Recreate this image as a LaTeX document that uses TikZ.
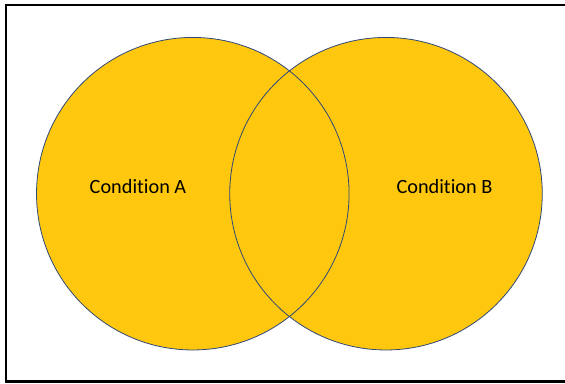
\documentclass[tikz,border=0pt]{standalone}
\usepackage{fontspec}
\setmainfont[Ligatures = NoCommon]{Carlito}
\definecolor{vennyellow}{RGB}{255,200,14}
\definecolor{vennrim}{RGB}{47,72,120}

\begin{document}
\begin{tikzpicture}[x = 0.75pt, y = -0.75pt, font = \fontsize{15.2}{18}\selectfont]
        \useasboundingbox (0,0) rectangle (565,383);
        
        \draw [line width = 2.2pt]
        (566,5) -- (6,5) -- (6,381.5) -- (566,381.5);
        
        \fill [vennyellow] (192.8,193.7) circle(117.2pt);
        \fill [vennyellow] (386,193.7) circle(117.2pt);
        
        \draw [vennrim, line width = 0.6pt] (192.8,193.7) circle(117.2pt);
        \draw [vennrim, line width = 0.6pt] (386,193.7) circle(117.2pt);
        
        \node [anchor = base] (condA) at (138,193.5) {Condition A};
        \node [anchor = base] (condB) at (444.5,193.5) {Condition B};
    \end{tikzpicture}
\end{document}
